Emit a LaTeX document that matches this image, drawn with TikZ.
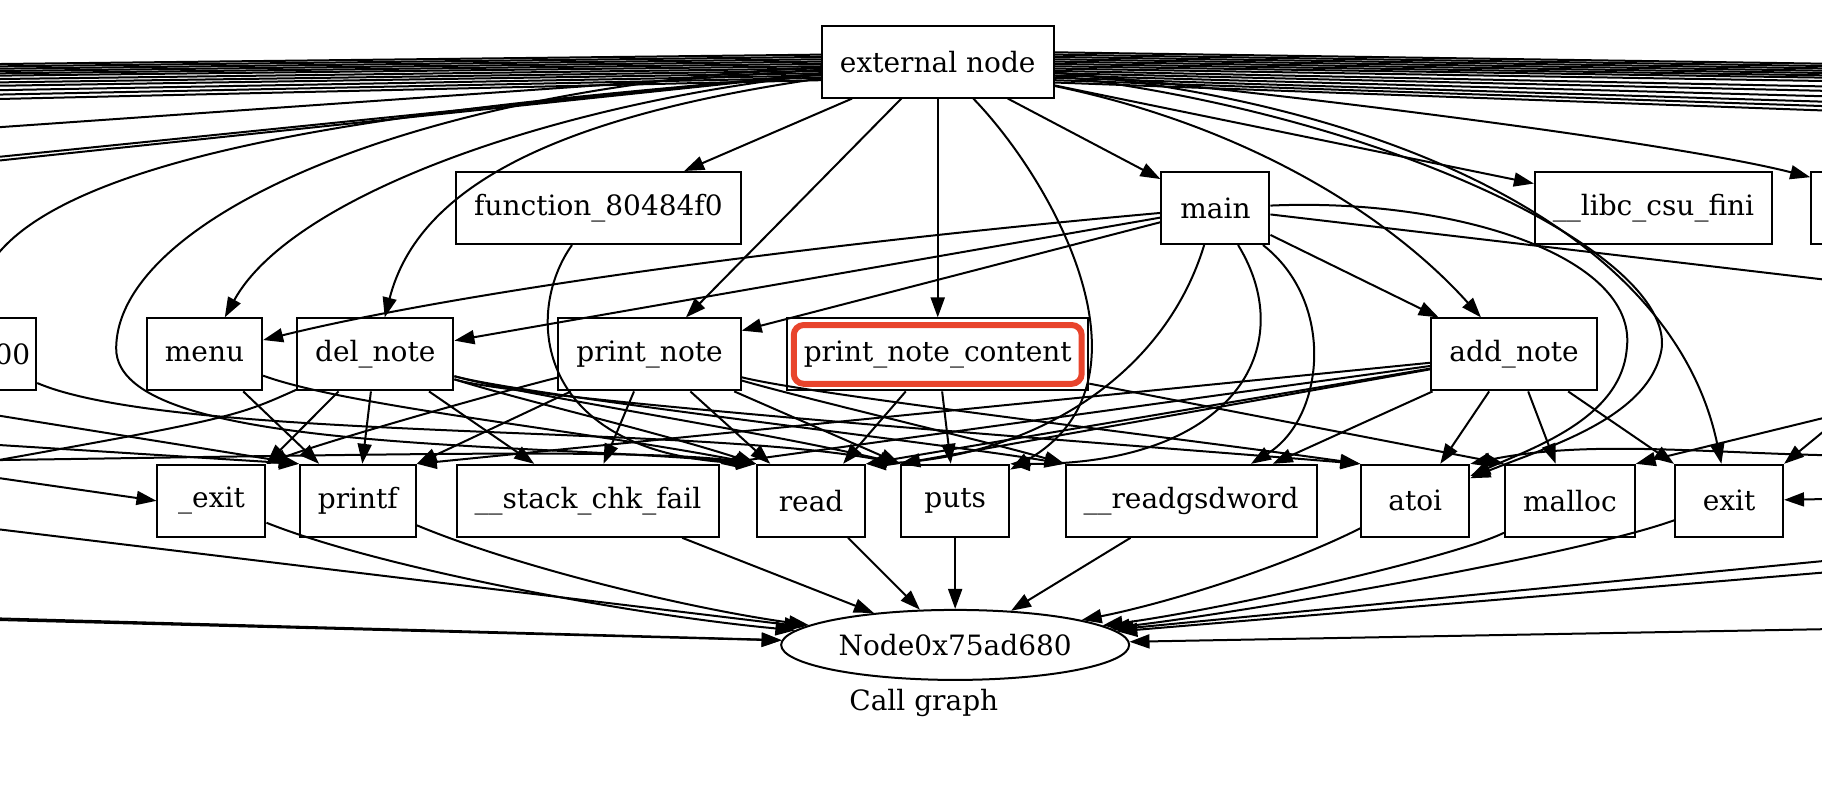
\documentclass[tikz,border=0pt]{standalone}
\usepackage{fontspec}
\setmainfont{DejaVu Serif}
\usetikzlibrary{arrows.meta,shapes.geometric,fit}
\definecolor{hl}{RGB}{232,68,44}

\begin{document}
\begin{tikzpicture}[
    x=0.581pt, y=-0.581pt,
    fn/.style={draw, line width=1pt, minimum width=54pt, minimum height=36pt, inner xsep=9pt, font=\fontsize{14}{16}\selectfont},
    ell/.style={draw, ellipse, line width=1pt, minimum width=174pt, minimum height=35pt, inner sep=0pt, font=\fontsize{14}{16}\selectfont},
    call/.style={-{Triangle[length=10pt,width=7pt]}, line width=1pt}
]
\useasboundingbox (0,0) rectangle (1568,692);
\clip (0,0) rectangle (1568,692);

\node[fn] (ext) at (807,53) {external node};
\node[fn] (func) at (515,179) {function\_80484f0};
\node[fn] (main) at (1046,179) {main};
\node[fn] (fini) at (1423,179) {\_\_libc\_csu\_fini};
\node[fn, minimum width=120pt] (cutR) at (1662,179) {};
\node[fn, anchor=east, text width=60pt, align=right, inner xsep=3pt] (zero) at (32,305) {00};
\node[fn] (menu) at (176,305) {menu};
\node[fn] (del) at (323,305) {del\_note};
\node[fn] (pn) at (559,305) {print\_note};
\node[fn, draw=hl, line width=3pt, rounded corners=5pt, inner xsep=5pt, minimum height=29.4pt] (pnc) at (807,305) {print\_note\_content};
\node[draw, line width=1pt, fit=(pnc), inner sep=1.8pt] (pncbox) {};
\node[fn] (add) at (1303,305) {add\_note};
\node[fn] (exitu) at (182,431) {\_exit};
\node[fn] (printf) at (308,431) {printf};
\node[fn] (stack) at (506,431) {\_\_stack\_chk\_fail};
\node[fn] (read) at (698,431) {read};
\node[fn] (puts) at (822,431) {puts};
\node[fn] (gsd) at (1025,431) {\_\_readgsdword};
\node[fn] (atoi) at (1218,431) {atoi};
\node[fn] (malloc) at (1351,431) {malloc};
\node[fn] (exit) at (1488,431) {exit};
\node[ell] (N) at (822,555) {Node0x75ad680};
\node[font=\fontsize{14}{16}\selectfont] (title) at (795,605) {Call graph};

\coordinate (offR2) at (1650,250);
\coordinate (oLa) at (-80,345);
\coordinate (oLb) at (-80,378);
\coordinate (oLc) at (-80,410);
\coordinate (oLd) at (-80,397);
\coordinate (oLe) at (-80,400);
\coordinate (oLf) at (-80,446);
\coordinate (oLg) at (-80,530);
\coordinate (oLh) at (-80,531.5);
\coordinate (oRa) at (1650,340);
\coordinate (oRb) at (1650,305);
\coordinate (oRc) at (1650,392);
\coordinate (oRd) at (1650,428);
\coordinate (oRe) at (1650,475);
\coordinate (oRf) at (1650,486);
\coordinate (oRg) at (1650,540);

\foreach \a/\b [count=\i] in {-6/56,-4/58,-2/60,0/62,2/64,4/66,6/69,8/72,10/75,12/79,14/83,16/87}{
  \coordinate (offl\i) at (-80,\b);
  \draw[call] ([shift={(0,\a)}]ext.west) -- (offl\i);
}
\foreach \b [count=\i] in {115,143,146.5}{
  \coordinate (offm\i) at (-80,\b);
  \draw[call] (ext) -- (offm\i);
}
\foreach \a/\b [count=\i] in {-8/56,-6/58,-4/60,-2/62,0/64,2/66,4/68,6/71,8/76,10/80,12/85,14/90,16/94,18/98}{
  \coordinate (offr\i) at (1650,\b);
  \draw[call] ([shift={(0,\a)}]ext.east) -- (offr\i);
}

\draw[call] (ext) -- (func);
\draw[call] (ext) -- (main);
\draw[call] (ext) -- (fini);
\draw[call] (ext) .. controls (1150,85) and (1450,125) .. (cutR);
\draw[call] (ext) .. controls (470,90) and (250,170) .. (menu);
\draw[call] (ext) .. controls (480,100) and (360,160) .. (del);
\draw[call] (ext) -- (pn);
\draw[call] (ext) -- (pncbox);
\draw[call] (ext) .. controls (910,160) and (1000,330) .. (puts);
\draw[call] (ext) .. controls (1080,110) and (1200,190) .. (add);
\draw[call] (ext) .. controls (1200,100) and (1440,220) .. (1430,300) .. controls (1420,360) and (1330,385) .. (atoi);
\draw[call] (ext) .. controls (1200,90) and (1440,200) .. (exit);
\draw[call] (ext) .. controls (350,75) and (100,190) .. (100,300) .. controls (100,390) and (450,380) .. (read.north west);
\draw[call] (ext) .. controls (500,85) and (0,110) .. (zero);

\draw[call] (main) .. controls (700,210) and (400,250) .. (menu);
\draw[call] (main) -- (del);
\draw[call] (main) -- (pn);
\draw[call] (main) -- (add);
\draw[call] (main) -- (offR2);
\draw[call] (main) .. controls (1000,330) and (880,395) .. (read.north east);
\draw[call] (main) .. controls (1120,300) and (1060,400) .. (puts.north east);
\draw[call] (main) .. controls (1150,260) and (1140,360) .. (gsd);
\draw[call] (main) .. controls (1250,170) and (1410,220) .. (1400,300) .. controls (1395,360) and (1320,385) .. (atoi);

\draw[call] (func) .. controls (450,270) and (460,390) .. (read.north west);
\draw[call] (zero) .. controls (150,380) and (600,365) .. (puts.north west);

\draw[call] (menu) -- (printf);
\draw[call] (menu) .. controls (300,350) and (500,370) .. (read.north west);

\draw[call] (del) .. controls (200,360) .. (oLc);
\draw[call] (del) -- (exitu.north east);
\draw[call] (del) -- (printf);
\draw[call] (del) -- (stack);
\draw[call] (del) .. controls (450,345) and (560,370) .. (read.north west);
\draw[call] (del) .. controls (450,340) and (650,370) .. (puts.north west);
\draw[call] (del) .. controls (450,340) and (800,380) .. (gsd.north west);
\draw[call] (del) .. controls (450,345) and (1000,385) .. (atoi.north west);

\draw[call] (pn) .. controls (420,340) and (280,380) .. (exitu.north east);
\draw[call] (pn) -- (printf.north east);
\draw[call] (pn) -- (stack);
\draw[call] (pn) -- (read);
\draw[call] (pn) -- (puts.north west);
\draw[call] (pn) .. controls (700,345) and (850,380) .. (gsd.north west);
\draw[call] (pn) .. controls (700,340) and (1000,375) .. (atoi.north west);

\draw[call] (pncbox) -- (read);
\draw[call] (pncbox) -- (puts);
\draw[call] (pncbox) -- (malloc.north west);

\draw[call] (add) -- (printf.north east);
\draw[call] (add) -- (stack.north east);
\draw[call] (add) -- (read.north east);
\draw[call] (add) -- (puts.north west);
\draw[call] (add) -- (gsd);
\draw[call] (add) -- (atoi);
\draw[call] (add) -- (malloc);
\draw[call] (add) -- (exit.north west);

\draw[call] (oLa) -- (printf.north west);
\draw[call] (oLb) -- (printf.north west);
\draw[call] (oLd) .. controls (300,392) and (550,385) .. (read.north west);
\draw[call] (oLe) -- (exitu.west);
\draw[call] (oRa) -- (malloc.north east);
\draw[call] (oRb) -- (exit.north east);
\draw[call] (oRc) .. controls (1500,395) and (1380,375) .. (atoi.north east);
\draw[call] (oRd) -- (exit);

\draw[call] (exitu) .. controls (330,490) and (550,530) .. (N);
\draw[call] (printf) .. controls (450,490) and (600,525) .. (N);
\draw[call] (stack) -- (N);
\draw[call] (read) -- (N);
\draw[call] (puts) -- (N);
\draw[call] (gsd) -- (N);
\draw[call] (atoi) .. controls (1100,490) and (1000,520) .. (N);
\draw[call] (malloc) .. controls (1250,480) and (1050,525) .. (N);
\draw[call] (exit) .. controls (1350,480) and (1050,530) .. (N);
\draw[call] (oLf) -- (N);
\draw[call] (oLg) -- (N);
\draw[call] (oLh) -- (N);
\draw[call] (oRe) -- (N);
\draw[call] (oRf) -- (N);
\draw[call] (oRg) -- (N);
\end{tikzpicture}
\end{document}
